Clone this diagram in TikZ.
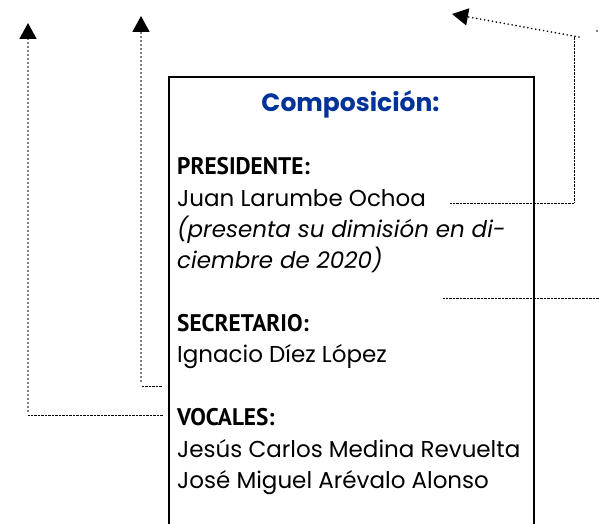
\documentclass[tikz,border=0pt]{standalone}
\usepackage{fontspec}
\setmainfont{Poppins}
\newfontfamily\labelfont[FakeStretch=0.97]{PT Sans}
\usetikzlibrary{arrows.meta}
\definecolor{titleblue}{RGB}{0,51,153}
\begin{document}
\begin{tikzpicture}[x=1pt,y=-1pt,
 txt/.style={anchor=base west, inner sep=0pt, font=\fontsize{23}{27}\selectfont},
 itx/.style={txt, font=\fontsize{23}{27}\selectfont\itshape},
 lbl/.style={anchor=base west, inner sep=0pt, font=\labelfont\bfseries\fontsize{24}{28}\selectfont},
 ttl/.style={anchor=base, inner sep=0pt, font=\bfseries\fontsize{25}{29}\selectfont, text=titleblue},
 thickdot/.style={line width=1.8pt, dash pattern=on 0pt off 4pt, line cap=round},
 thindot/.style={line width=0.7pt, dash pattern=on 0.7pt off 0.7pt},
 tip/.style={-{Triangle[width=17pt,length=16pt]}},
]
\useasboundingbox (0,0) rectangle (599,524);
\clip (0,0) rectangle (599,524);
% box
\node[draw, line width=2pt, minimum width=365pt, minimum height=470pt,
      anchor=north west, inner sep=0pt] (box) at (168,76) {};
% texts
\node[ttl] (title) at (350.5,112) {Composición:};
\node[lbl] (pres) at (177,174) {PRESIDENTE:};
\node[txt] (juan) at (177,206) {Juan Larumbe Ochoa};
\node[itx] (dim1) at (177,237) {(presenta su dimisión en di-};
\node[itx] (dim2) at (177,268) {ciembre de 2020)};
\node[lbl] (secr) at (177,331) {SECRETARIO:};
\node[txt] (igna) at (177,362) {Ignacio Díez López};
\node[lbl] (voca) at (177,425) {VOCALES:};
\node[txt] (jesu) at (177,457) {Jesús Carlos Medina Revuelta};
\node[txt] (jose) at (177,488) {José Miguel Arévalo Alonso};
% coordinates
\coordinate (vA) at (163,415);
\coordinate (vB) at (28,415);
\coordinate (vC) at (28,411);
\coordinate (vT) at (28,23);
\coordinate (sA) at (162,386);
\coordinate (sB) at (141,386);
\coordinate (sC) at (141,381);
\coordinate (sT) at (141,16);
\coordinate (pA) at (450,203);
\coordinate (pB) at (574,203);
\coordinate (pC) at (574,37);
\coordinate (pD) at (579,37);
\coordinate (pT) at (452,14);
\coordinate (mA) at (443,298);
\coordinate (mB) at (599,298);
\coordinate (xA) at (597,31);
\coordinate (xB) at (599,31);
% connectors
\draw[thindot] (vA) -- (vB);
\draw[thickdot, tip] (vC) -- (vT);
\draw[thindot] (sA) -- (sB);
\draw[thickdot, tip] (sC) -- (sT);
\draw[thindot] (pA) -- (pB) -- (pC);
\draw[thickdot, tip] (pD) -- (pT);
\draw[thindot] (mA) -- (mB);
\draw[thickdot] (xA) -- (xB);
\end{tikzpicture}
\end{document}
